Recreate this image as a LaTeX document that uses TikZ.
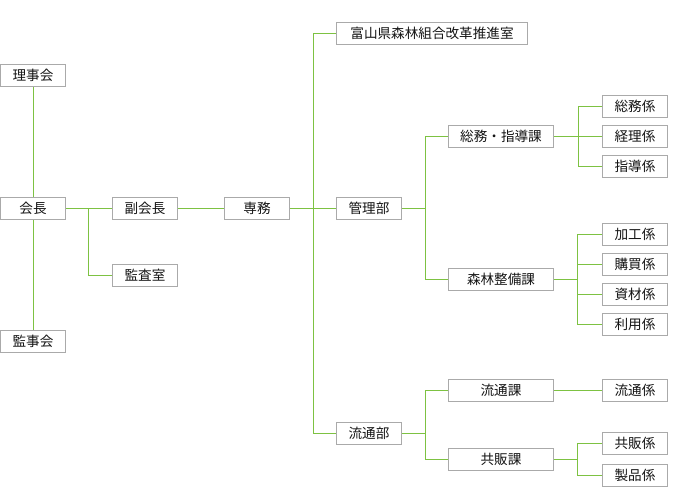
\documentclass[tikz,border=0pt]{standalone}
\usepackage{fontspec}
\newfontfamily\jp{Noto Sans CJK JP}
\definecolor{ln}{RGB}{125,194,66}
\definecolor{bx}{RGB}{170,170,170}
\definecolor{tx}{RGB}{20,20,20}
\begin{document}
\begin{tikzpicture}[x=1pt,y=-1pt,
  box/.style={draw=bx,line width=1pt,fill=white,minimum width=65pt,minimum height=22pt,inner sep=0pt,font=\jp\fontsize{13.6}{15}\selectfont,text=tx},
  wbox/.style={box,minimum width=105pt},
  link/.style={draw=ln,line width=1pt}]
\useasboundingbox (0,0) rectangle (698,487);
% nodes
\node[box] (rijikai) at (33,75.5) {理事会};
\node[box] (kaicho) at (33,208.5) {会長};
\node[box] (kanjikai) at (33,341.5) {監事会};
\node[box] (fuku) at (145,208.5) {副会長};
\node[box] (kansa) at (145,275.5) {監査室};
\node[box] (senmu) at (257,208.5) {専務};
\node[box,minimum width=191pt] (toyama) at (432,33.5) {富山県森林組合改革推進室};
\node[box] (kanri) at (369,208.5) {管理部};
\node[box] (ryutsub) at (369,433.5) {流通部};
\node[wbox] (somuka) at (501,136.5) {総務・指導課};
\node[wbox] (shinrin) at (501,279.5) {森林整備課};
\node[wbox] (ryutsuka) at (501,390.5) {流通課};
\node[wbox] (kyohanka) at (501,459.5) {共販課};
\node[box] (somukakari) at (635,106.5) {総務係};
\node[box] (keiri) at (635,136.5) {経理係};
\node[box] (shido) at (635,166.5) {指導係};
\node[box] (kako) at (635,234.5) {加工係};
\node[box] (kobai) at (635,264.5) {購買係};
\node[box] (shizai) at (635,294.5) {資材係};
\node[box] (riyo) at (635,324.5) {利用係};
\node[box] (ryutsukakari) at (635,390.5) {流通係};
\node[box] (kyohan) at (635,443.5) {共販係};
\node[box] (seihin) at (635,475.5) {製品係};
% junctions
\coordinate (jA) at (88.5,208.5);
\coordinate (jB) at (313.5,208.5);
\coordinate (jC) at (425.5,208.5);
\coordinate (jD) at (578.5,136.5);
\coordinate (jE) at (577.5,279.5);
\coordinate (jF) at (425.5,433.5);
\coordinate (jG) at (577.5,459.5);
% connectors
\begin{scope}[link]
\draw ([xshift=0.5pt]rijikai.south) -- ([xshift=0.5pt]kaicho.north);
\draw ([xshift=0.5pt]kaicho.south) -- ([xshift=0.5pt]kanjikai.north);
\draw (kaicho.east) -- (fuku.west);
\draw (jA) |- (kansa.west);
\draw (fuku.east) -- (senmu.west);
\draw (senmu.east) -- (kanri.west);
\draw (toyama.west) -| (jB) |- (ryutsub.west);
\draw (kanri.east) -- (jC);
\draw (somuka.west) -| (jC) |- (shinrin.west);
\draw (somuka.east) -- (keiri.west);
\draw (somukakari.west) -| (jD) |- (shido.west);
\draw (shinrin.east) -- (jE);
\draw (kako.west) -| (jE) |- (riyo.west);
\draw (kobai.west -| jE) -- (kobai.west);
\draw (shizai.west -| jE) -- (shizai.west);
\draw (ryutsub.east) -- (jF);
\draw (ryutsuka.west) -| (jF) |- (kyohanka.west);
\draw (ryutsuka.east) -- (ryutsukakari.west);
\draw (kyohanka.east) -- (jG);
\draw (kyohan.west) -| (jG) |- (seihin.west);
\end{scope}
\end{tikzpicture}
\end{document}
